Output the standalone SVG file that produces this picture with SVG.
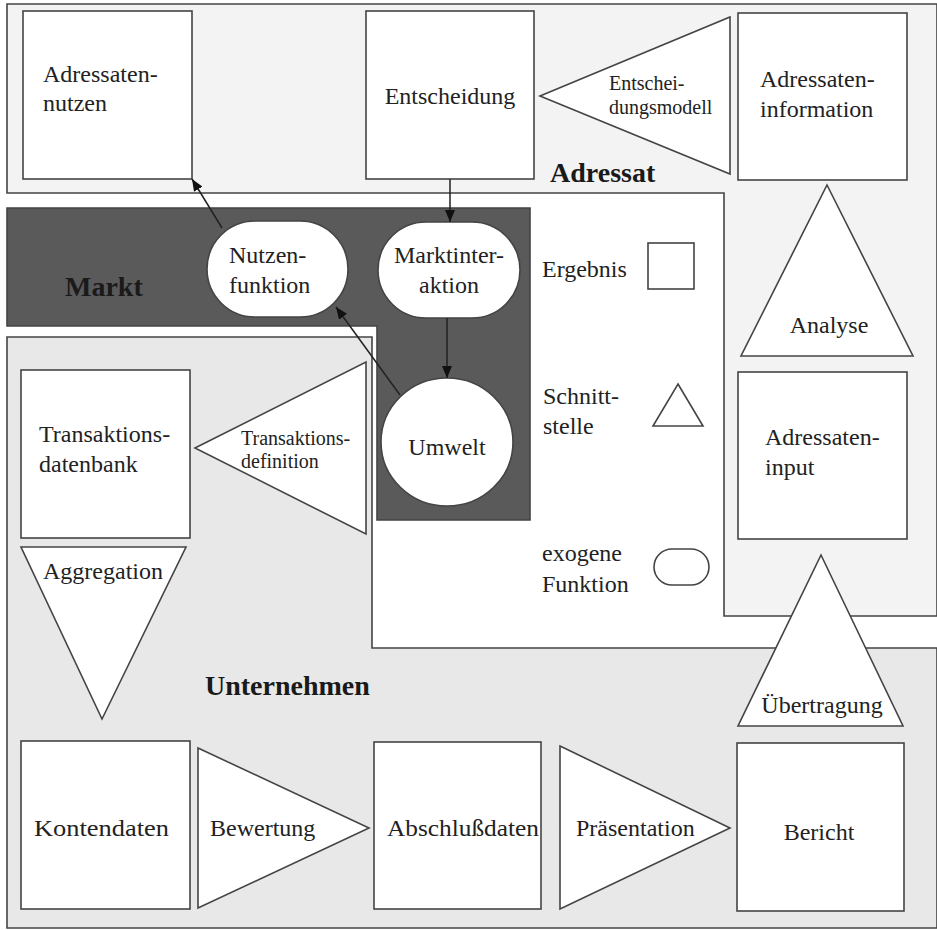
<svg xmlns="http://www.w3.org/2000/svg" width="937" height="930" viewBox="0 0 937 930">
<defs>
<style>
.reg{stroke:#444;stroke-width:1.6}
.nd{fill:#fff;stroke:#444;stroke-width:1.6}
.t{font-family:"Liberation Serif","Times New Roman",serif;font-size:24px;fill:#222}
.ts{font-family:"Liberation Serif","Times New Roman",serif;font-size:20px;fill:#222}
.tb{font-family:"Liberation Serif","Times New Roman",serif;font-size:28px;font-weight:bold;fill:#1a1a1a}
.c{text-anchor:middle}
.ln{stroke:#222;stroke-width:1.5;fill:none}
</style>
<marker id="ah" viewBox="0 0 12 10" refX="12" refY="5" markerWidth="12" markerHeight="10" markerUnits="userSpaceOnUse" orient="auto">
<path d="M0,0 L12,5 L0,10 Z" fill="#111"/>
</marker>
</defs>
<rect width="937" height="930" fill="#fff"/>
<g id="regions">
<path id="region-adressat" class="reg" fill="#f3f3f3" d="M7,4 H937 V616 H724 V193 H7 Z"/>
<path id="region-markt" class="reg" fill="#5a5a5a" d="M7,208 H530 V520 H377 V326 H7 Z"/>
<path id="region-unternehmen" class="reg" fill="#e8e8e8" d="M7,337 H372 V648 H937 V928 H7 Z"/>
</g>
<g id="labels">
<text class="tb" x="550" y="182">Adressat</text>
<text class="tb" x="65" y="296">Markt</text>
<text class="tb" x="205" y="695">Unternehmen</text>
</g>
<g id="n-adressatennutzen"><rect class="nd" x="23" y="11" width="169" height="168"/>
<text class="t" x="43" y="82">Adressaten-</text><text class="t" x="43" y="111">nutzen</text></g>
<g id="n-entscheidung"><rect class="nd" x="366" y="11" width="168" height="168"/>
<text class="t c" x="450" y="104">Entscheidung</text></g>
<g id="n-entscheidungsmodell"><polygon class="nd" points="540,96 730,17 730,174"/>
<text class="ts" x="609" y="90">Entschei-</text><text class="ts" x="609" y="114">dungsmodell</text></g>
<g id="n-adressateninformation"><rect class="nd" x="738" y="13" width="169" height="167"/>
<text class="t" x="760" y="87">Adressaten-</text><text class="t" x="760" y="117">information</text></g>
<g id="n-analyse"><polygon class="nd" points="827,185 913,356 741,356"/>
<text class="t c" x="829" y="333">Analyse</text></g>
<g id="n-adressateninput"><rect class="nd" x="738" y="372" width="169" height="167"/>
<text class="t" x="765" y="445">Adressaten-</text><text class="t" x="765" y="475">input</text></g>
<g id="n-uebertragung"><polygon class="nd" points="821,555 903,726 738,726"/>
<text class="t c" x="822" y="713">Übertragung</text></g>
<g id="n-nutzenfunktion"><rect class="nd" x="207" y="221" width="141" height="96" rx="48" ry="48"/>
<text class="t" x="229" y="263">Nutzen-</text><text class="t" x="229" y="293">funktion</text></g>
<g id="n-marktinteraktion"><rect class="nd" x="378" y="222" width="142" height="96" rx="48" ry="48"/>
<text class="t c" x="449" y="263">Marktinter-</text><text class="t c" x="449" y="293">aktion</text></g>
<g id="n-umwelt"><ellipse class="nd" cx="447" cy="442" rx="66" ry="64"/>
<text class="t c" x="447" y="455">Umwelt</text></g>
<g id="n-transaktionsdatenbank"><rect class="nd" x="21" y="370" width="169" height="168"/>
<text class="t" x="39" y="442">Transaktions-</text><text class="t" x="39" y="472">datenbank</text></g>
<g id="n-transaktionsdefinition"><polygon class="nd" points="195,448 366,362 366,534"/>
<text class="ts" x="241" y="445">Transaktions-</text><text class="ts" x="241" y="468">definition</text></g>
<g id="n-aggregation"><polygon class="nd" points="21,547 186,547 102,719"/>
<text class="t" x="43" y="579">Aggregation</text></g>
<g id="n-kontendaten"><rect class="nd" x="21" y="741" width="169" height="168"/>
<text class="t" x="34" y="836" textLength="135" lengthAdjust="spacingAndGlyphs">Kontendaten</text></g>
<g id="n-bewertung"><polygon class="nd" points="198,748 369,828 198,908"/>
<text class="t" x="210" y="836">Bewertung</text></g>
<g id="n-abschlussdaten"><rect class="nd" x="374" y="742" width="167" height="167"/>
<text class="t" x="387" y="836" textLength="152" lengthAdjust="spacingAndGlyphs">Abschlußdaten</text></g>
<g id="n-praesentation"><polygon class="nd" points="560,746 730,828 560,909"/>
<text class="t" x="576" y="836">Präsentation</text></g>
<g id="n-bericht"><rect class="nd" x="737" y="743" width="167" height="168"/>
<text class="t c" x="819" y="840">Bericht</text></g>
<g id="legend">
<text class="t" x="542" y="277">Ergebnis</text>
<rect class="nd" x="648" y="243" width="46" height="46"/>
<text class="t" x="543" y="404">Schnitt-</text><text class="t" x="543" y="434">stelle</text>
<polygon class="nd" points="678,384 703,426 653,426"/>
<text class="t" x="542" y="561">exogene</text><text class="t" x="542" y="592">Funktion</text>
<rect class="nd" x="654" y="549" width="55" height="36" rx="18" ry="18"/>
</g>
<g id="connectors">
<line class="ln" x1="222" y1="228" x2="192" y2="179" marker-end="url(#ah)"/>
<line class="ln" x1="450" y1="179" x2="450" y2="222" marker-end="url(#ah)"/>
<line class="ln" x1="447" y1="318" x2="447" y2="378" marker-end="url(#ah)"/>
<line class="ln" x1="400" y1="395" x2="336" y2="307" marker-end="url(#ah)"/>
</g>
</svg>
